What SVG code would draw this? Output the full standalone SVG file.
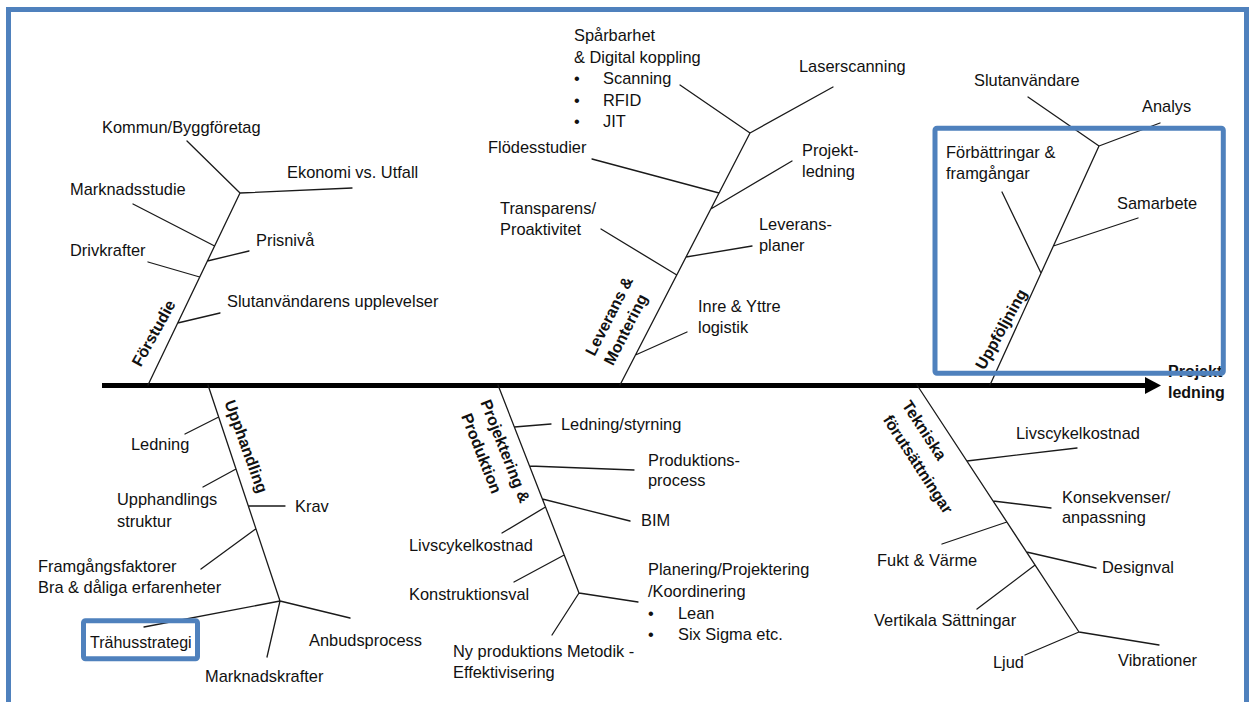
<svg xmlns="http://www.w3.org/2000/svg" width="1250" height="702" viewBox="0 0 1250 702">
<style>
.t{font-family:"Liberation Sans",Arial,sans-serif;font-size:16.4px;fill:#111}
.b{font-family:"Liberation Sans",Arial,sans-serif;font-size:16px;font-weight:bold;fill:#111}
.r{dominant-baseline:central}
.ln{stroke:#1a1a1a;stroke-width:1.3;fill:none;stroke-linecap:round}
.hl{fill:none;stroke:#4F81BD;stroke-width:5}
</style>
<rect width="1250" height="702" fill="#fff"/>
<rect id="frame" x="8.5" y="9.5" width="1238" height="720" class="hl"/>

<g id="connectors">
  <line x1="102" y1="385.5" x2="1147" y2="385.5" stroke="#000" stroke-width="5"/>
  <polygon points="1145,377 1161,385.5 1145,394" fill="#000"/>
  <!-- Förstudie -->
  <path class="ln" d="M148,385 L240,193 M240,193 L187,141 M240,193 L352,188 M214.6,246 L133,204 M207.4,261 L249,251 M199.7,277 L148,262 M177.7,323 L220,313"/>
  <!-- Leverans & Montering -->
  <path class="ln" d="M620,385 L750,133 M750,133 L680,85 M750,133 L833,87 M719,193 L592,159 M710.8,209 L792,161 M686,257 L752,246 M676.8,275 L601,229 M635.5,355 L687,332"/>
  <!-- Uppföljning -->
  <path class="ln" d="M990,385 L1099,146 M1099,146 L1028,97 M1099,146 L1160,123 M1053.4,246 L1138,218 M1041,273 L1002,192"/>
  <!-- Upphandling -->
  <path class="ln" d="M208,385 L280,601 M218.7,417 L185,434 M236,469 L203,487 M248.3,506 L285,506 M255.6,529 L201,569 M280,601 L144,627 M280,601 L350,618 M280,601 L267,657"/>
  <!-- Projektering & Produktion -->
  <path class="ln" d="M498,385 L579,593 M514.3,427 L551,424 M529.5,466 L634,470 M542.4,499 L630,521 M545.5,507 L502,533 M564.2,555 L514,582 M579,593 L638,602 M579,593 L552,635"/>
  <!-- Tekniska förutsättningar -->
  <path class="ln" d="M917,385 L1079,632 M966.9,461 L1077,448 M993.1,501 L1051,508 M1006.9,522 L942,544 M1026.6,552 L1096,568 M1035.1,565 L977,609 M1079,632 L1025,655 M1079,632 L1159,645"/>
</g>

<g id="effect">
  <text class="b" x="1168" y="377">Projekt</text>
  <text class="b" x="1168" y="398">ledning</text>
</g>

<g id="forstudie">
  <text class="b r" transform="translate(136,365) rotate(-61)">Förstudie</text>
  <g id="f1"><text class="t" x="102" y="133">Kommun/Byggföretag</text></g>
  <g id="f2"><text class="t" x="287" y="178">Ekonomi vs. Utfall</text></g>
  <g id="f3"><text class="t" x="70" y="195">Marknadsstudie</text></g>
  <g id="f4"><text class="t" x="256" y="246">Prisnivå</text></g>
  <g id="f5"><text class="t" x="70" y="256">Drivkrafter</text></g>
  <g id="f6"><text class="t" x="227" y="307">Slutanvändarens upplevelser</text></g>
</g>

<g id="leverans">
  <text class="b r" transform="translate(589.5,354.5) rotate(-63)">Leverans &amp;</text>
  <text class="b r" transform="translate(608,364) rotate(-63)">Montering</text>
  <g id="l1"><text class="t" x="574" y="41">Spårbarhet</text>
    <text class="t" x="574" y="63">&amp; Digital koppling</text>
    <text class="t" x="574" y="84">•</text><text class="t" x="603" y="84">Scanning</text>
    <text class="t" x="574" y="106">•</text><text class="t" x="603" y="106">RFID</text>
    <text class="t" x="574" y="127">•</text><text class="t" x="603" y="127">JIT</text></g>
  <g id="l2"><text class="t" x="799" y="72">Laserscanning</text></g>
  <g id="l3"><text class="t" x="488" y="153">Flödesstudier</text></g>
  <g id="l4"><text class="t" x="802" y="156">Projekt-</text><text class="t" x="802" y="177">ledning</text></g>
  <g id="l5"><text class="t" x="500" y="214">Transparens/</text><text class="t" x="500" y="235">Proaktivitet</text></g>
  <g id="l6"><text class="t" x="759" y="230">Leverans-</text><text class="t" x="759" y="251">planer</text></g>
  <g id="l7"><text class="t" x="698" y="312">Inre &amp; Yttre</text><text class="t" x="698" y="333">logistik</text></g>
</g>

<g id="uppfoljning">
  <text class="b r" transform="translate(979.5,368) rotate(-61)">Uppföljning</text>
  <g id="u1"><text class="t" x="974" y="86">Slutanvändare</text></g>
  <g id="u2"><text class="t" x="1142" y="112">Analys</text></g>
  <g id="u3"><text class="t" x="946" y="158">Förbättringar &amp;</text><text class="t" x="946" y="179">framgångar</text></g>
  <g id="u4"><text class="t" x="1117" y="209">Samarbete</text></g>
</g>

<g id="upphandling">
  <text class="b r" transform="translate(229.5,400.5) rotate(70)">Upphandling</text>
  <g id="h1"><text class="t" x="131" y="450">Ledning</text></g>
  <g id="h2"><text class="t" x="117" y="505">Upphandlings</text><text class="t" x="117" y="527">struktur</text></g>
  <g id="h3"><text class="t" x="295" y="512">Krav</text></g>
  <g id="h4"><text class="t" x="38" y="572">Framgångsfaktorer</text><text class="t" x="38" y="593">Bra &amp; dåliga erfarenheter</text></g>
  <g id="h5"><text class="t" x="90" y="648" style="font-size:16px">Trähusstrategi</text></g>
  <g id="h6"><text class="t" x="309" y="646">Anbudsprocess</text></g>
  <g id="h7"><text class="t" x="205" y="682">Marknadskrafter</text></g>
</g>

<g id="projektering">
  <text class="b r" transform="translate(485.3,400.3) rotate(68.5)">Projektering &amp;</text>
  <text class="b r" transform="translate(466,414) rotate(68.5)">Produktion</text>
  <g id="p1"><text class="t" x="561" y="430">Ledning/styrning</text></g>
  <g id="p2"><text class="t" x="648" y="466">Produktions-</text><text class="t" x="648" y="486">process</text></g>
  <g id="p3"><text class="t" x="641" y="526">BIM</text></g>
  <g id="p4"><text class="t" x="409" y="551">Livscykelkostnad</text></g>
  <g id="p5"><text class="t" x="409" y="600">Konstruktionsval</text></g>
  <g id="p6"><text class="t" x="648" y="575">Planering/Projektering</text>
    <text class="t" x="648" y="597">/Koordinering</text>
    <text class="t" x="648" y="619">•</text><text class="t" x="678" y="619">Lean</text>
    <text class="t" x="648" y="640">•</text><text class="t" x="678" y="640">Six Sigma etc.</text></g>
  <g id="p7"><text class="t" x="453" y="657">Ny produktions Metodik -</text><text class="t" x="453" y="678">Effektivisering</text></g>
</g>

<g id="tekniska">
  <text class="b r" transform="translate(906,402) rotate(57)">Tekniska</text>
  <text class="b r" transform="translate(887,416.5) rotate(57)">förutsättningar</text>
  <g id="k1"><text class="t" x="1016" y="439">Livscykelkostnad</text></g>
  <g id="k2"><text class="t" x="1062" y="503">Konsekvenser/</text><text class="t" x="1062" y="523">anpassning</text></g>
  <g id="k3"><text class="t" x="877" y="566">Fukt &amp; Värme</text></g>
  <g id="k4"><text class="t" x="1102" y="573">Designval</text></g>
  <g id="k5"><text class="t" x="874" y="626">Vertikala Sättningar</text></g>
  <g id="k6"><text class="t" x="993" y="668">Ljud</text></g>
  <g id="k7"><text class="t" x="1118" y="666">Vibrationer</text></g>
</g>

<g id="highlights">
  <rect x="935" y="128.3" width="288.3" height="245" rx="2" class="hl"/>
  <rect x="83.5" y="620.8" width="114" height="38" rx="2" class="hl"/>
</g>
</svg>
